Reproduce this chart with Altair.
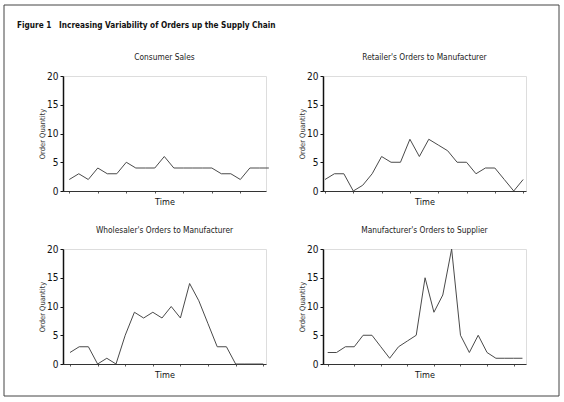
import altair as alt
import pandas as pd

# Order quantities per time period for each stage of the supply chain
consumer_sales = [2, 3, 2, 4, 3, 3, 5, 4, 4, 4, 6, 4, 4, 4, 4, 4, 3, 3, 2, 4, 4, 4]
retailer_orders = [2, 3, 3, 0, 1, 3, 6, 5, 5, 9, 6, 9, 8, 7, 5, 5, 3, 4, 4, 2, 0, 2]
wholesaler_orders = [2, 3, 3, 0, 1, 0, 5, 9, 8, 9, 8, 10, 8, 14, 11, 7, 3, 3, 0, 0, 0, 0]
manufacturer_orders = [2, 2, 3, 3, 5, 5, 3, 1, 3, 4, 5, 15, 9, 12, 20, 5, 2, 5, 2, 1, 1, 1, 1]

panel_titles = [
    "Consumer Sales",
    "Retailer's Orders to Manufacturer",
    "Wholesaler's Orders to Manufacturer",
    "Manufacturer's Orders to Supplier",
]
y_ticks = [0, 5, 10, 15, 20]

NARROW = "Liberation Sans Narrow, DejaVu Sans Condensed, Arial Narrow, sans-serif"
W, H = 203, 115


def panel(values, title, x_domain, frame=False):
    df = pd.DataFrame({"t": list(range(1, len(values) + 1)), "q": values})
    line = alt.Chart(df).mark_line(color="#4a4a4a", strokeWidth=1).encode(
        x=alt.X(
            "t:Q",
            scale=alt.Scale(domain=x_domain, nice=False, zero=False),
            axis=alt.Axis(
                title="Time", labels=False, grid=False,
                values=list(range(1, len(values) + 1, 3)),
                tickSize=2, tickColor="#555", domainColor="#333", domainWidth=1,
                titleFont=NARROW, titleFontSize=9, titleFontWeight="normal",
                titleColor="#111", titlePadding=4,
            ),
        ),
        y=alt.Y(
            "q:Q",
            scale=alt.Scale(domain=[0, 20], nice=False),
            axis=alt.Axis(
                title="Order Quantity", values=y_ticks, grid=False,
                tickSize=3, tickColor="#111", domainColor="#111", domainWidth=1.5,
                labelFont=NARROW, labelFontSize=10, labelColor="#111", labelPadding=2,
                titleFont=NARROW, titleFontSize=7.5, titleFontWeight="normal",
                titleColor="#333", titlePadding=0,
            ),
        ),
    )
    layers = [line]
    title_shift = 0
    if frame:
        # thin outer border around the whole figure
        border = alt.Chart(pd.DataFrame({"k": [0]})).mark_rect(
            fill="white", fillOpacity=0, stroke="#444", strokeWidth=1
        ).encode(
            x=alt.value(-59), x2=alt.value(496),
            y=alt.value(-71), y2=alt.value(320),
        )
        layers = [border, line]
        title_shift = 67
    return alt.layer(*layers).properties(
        width=W, height=H,
        title=alt.TitleParams(
            title, anchor="middle", frame="group", offset=10, dy=title_shift,
            font=NARROW, fontSize=8.3, fontWeight="normal", color="#222",
        ),
    )


tl = panel(consumer_sales, panel_titles[0], [0.34, 21.7], frame=True)
tr = panel(retailer_orders, panel_titles[1], [0.79, 22.3])
bl = panel(wholesaler_orders, panel_titles[2], [0.24, 22.3])
br = panel(manufacturer_orders, panel_titles[3], [0.47, 23.4])

chart = alt.concat(
    tl, tr, bl, br, columns=2, spacing={"row": 58, "column": 57}, bounds="flush"
).properties(
    title=alt.TitleParams(
        "Figure 1\u00a0\u00a0\u00a0Increasing Variability of Orders up the Supply Chain",
        anchor="start", frame="bounds", dx=14, dy=26, offset=0,
        font=NARROW, fontSize=8.2, fontWeight="bold", color="#111",
    ),
    padding={"left": 3, "top": 4, "right": 3, "bottom": 3},
).configure_view(strokeWidth=0).configure(background="white")

chart.save("out.html", embed_options={"renderer": "svg", "actions": False})
